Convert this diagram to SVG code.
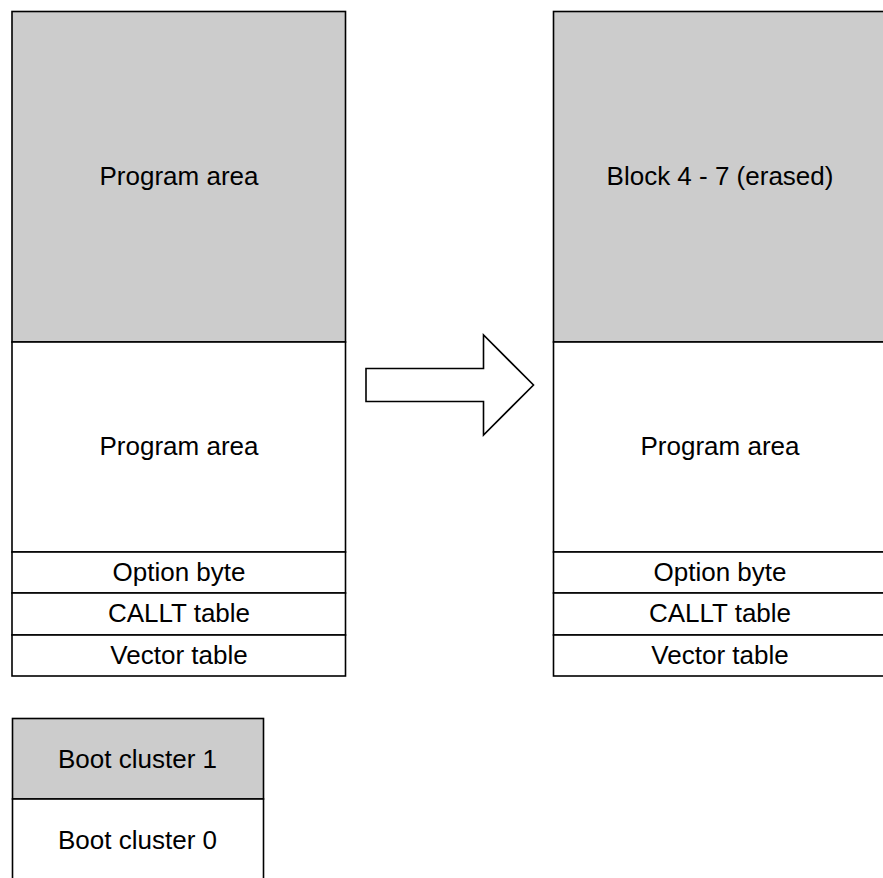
<svg xmlns="http://www.w3.org/2000/svg" width="883" height="878" viewBox="0 0 883 878">
<style>
.b{stroke:#000;stroke-width:1.6;fill:#fff}
.g{stroke:#000;stroke-width:1.6;fill:#cccccc}
.t{font-family:"Liberation Sans",Arial,sans-serif;font-size:26px;fill:#000;text-anchor:middle;dominant-baseline:central}
</style>
<rect width="883" height="878" fill="#fff"/>
<g id="left">
<rect class="g" x="12" y="11.5" width="333.5" height="330.5"/>
<text class="t" x="179" y="175.5">Program area</text>
<rect class="b" x="12" y="342" width="333.5" height="210"/>
<text class="t" x="179" y="446">Program area</text>
<rect class="b" x="12" y="552" width="333.5" height="41"/>
<text class="t" x="179" y="571.5">Option byte</text>
<rect class="b" x="12" y="593" width="333.5" height="42"/>
<text class="t" x="179" y="613">CALLT table</text>
<rect class="b" x="12" y="635" width="333.5" height="41"/>
<text class="t" x="179" y="655">Vector table</text>
</g>
<g id="right">
<rect class="g" x="553.5" y="11.5" width="340" height="330.5"/>
<text class="t" x="720" y="175.5">Block 4 - 7 (erased)</text>
<rect class="b" x="553.5" y="342" width="340" height="210"/>
<text class="t" x="720" y="446">Program area</text>
<rect class="b" x="553.5" y="552" width="340" height="41"/>
<text class="t" x="720" y="571.5">Option byte</text>
<rect class="b" x="553.5" y="593" width="340" height="42"/>
<text class="t" x="720" y="613">CALLT table</text>
<rect class="b" x="553.5" y="635" width="340" height="41"/>
<text class="t" x="720" y="655">Vector table</text>
</g>
<g id="boot">
<rect class="g" x="12.5" y="718.5" width="251" height="80.5"/>
<text class="t" x="137.5" y="759">Boot cluster 1</text>
<rect class="b" x="12.5" y="799" width="251" height="100"/>
<text class="t" x="137.5" y="840">Boot cluster 0</text>
</g>
<g id="connectors">
<polygon class="b" points="366,368.5 483.5,368.5 483.5,335 533.5,385 483.5,435 483.5,401.5 366,401.5"/>
</g>
</svg>
